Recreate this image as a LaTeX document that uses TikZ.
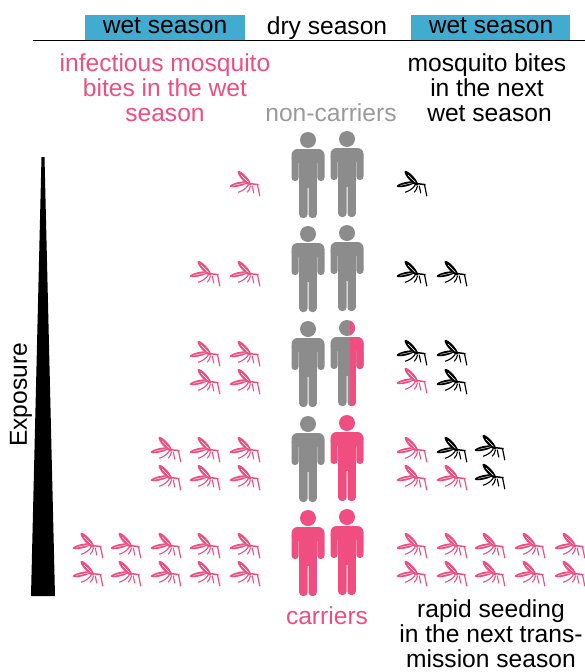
\documentclass[tikz,border=0pt]{standalone}
\usepackage{fontspec}
\setmainfont{Liberation Sans}
\definecolor{carrier}{HTML}{F04E80}
\definecolor{noncarrier}{HTML}{8C8C8C}
\definecolor{nonlabel}{HTML}{9A9A9A}
\definecolor{season}{HTML}{41ACD0}
\newcommand{\personshape}[1]{%
  \fill[#1] (0,0) circle (8);
  \fill[#1,rounded corners=6pt] (-16.5,23) -- (-16.5,9) -- (16.5,9) -- (16.5,23) -- cycle;
  \fill[#1,rounded corners=3.3pt] (-16.5,15) rectangle (-9.4,41);
  \fill[#1,rounded corners=3.3pt] (9.4,15) rectangle (16.5,41);
  \fill[#1] (-8.8,15) rectangle (8.8,48);
  \fill[#1,rounded corners=3.5pt] (-8.8,40) rectangle (-0.5,78);
  \fill[#1,rounded corners=3.5pt] (0.5,40) rectangle (8.8,78);
}
\tikzset{
  lbl/.style={font=\fontsize{24.6}{25}\selectfont, align=center, inner sep=0pt},
  pics/person/.style={code={\personshape{#1}}},
  pics/halfperson/.style={code={
    \personshape{noncarrier}
    \begin{scope}
      \clip (3,-10) rectangle (20,80);
      \personshape{carrier}
    \end{scope}
  }},
  pics/mosquito/.style={code={
    \begin{scope}[shift={(0.5,1)}]
    \fill[#1,rotate around={-48:(-1.2,-5.8)}] (-1.2,-5.8) ellipse (9.6 and 2.7);
    \fill[#1,rotate around={13:(-7,0.3)}] (-7,0.3) ellipse (9 and 2.2);
    \draw[white,line width=0.4pt] (-4.5,-9) -- (3,-1.5);
    \draw[white,line width=0.4pt] (-12,1.4) -- (0,-1.2);
    \draw[#1,line width=1.5pt] (0,-1) -- (13,0.7);
    \draw[#1,line width=1.1pt] (6.7,1.7) -- (8.3,9.3);
    \draw[#1,line width=1.1pt] (5,1.7) .. controls (4.5,4.5) and (3.5,6.5) .. (1.7,8.3);
    \draw[#1,line width=1.1pt] (2.7,1.2) .. controls (0.5,4.5) and (-3,6.8) .. (-7.3,8.3);
    \draw[#1,line width=1.2pt] (12,0.7) -- (14.3,12.2);
    \end{scope}
  }}
}
\begin{document}
\begin{tikzpicture}[x=1pt,y=-1pt]
\useasboundingbox (0,0) rectangle (585,672);
\fill[season] (85,15) rectangle (245,40);
\fill[season] (411,15) rectangle (570,40);
\draw[line width=1pt] (33,40.5) -- (585,40.5);
\node[lbl] (wet1) at (165,26) {wet season};
\node[lbl] (dry) at (327,28) {dry season};
\node[lbl] (wet2) at (491,26) {wet season};
\node[lbl,text=carrier] (bites) at (165,88) {infectious mosquito\\bites in the wet\\season};
\node[lbl] (next) at (487,88) {mosquito bites\\in the next\\\hspace*{5pt}wet season};
\node[lbl,text=nonlabel] (non) at (331,113) {non-carriers};
\node[lbl,text=carrier] (carriers) at (327,616) {carriers};
\node[lbl] (seeding) at (491,633.5) {rapid seeding\\in the next trans-\\mission season};
\node[lbl,rotate=90] (exposure) at (21,395) {Exposure};
\fill (41.5,157) -- (44.5,157) -- (55,596) -- (31,596) -- cycle;
% people
\foreach \py/\pa/\pb in {140/noncarrier/noncarrier,234/noncarrier/noncarrier,424/noncarrier/carrier,518/carrier/carrier}{
  \pic at (308,\py) {person=\pa};
  \pic at (347,\py-1) {person=\pb};
}
\pic at (308,329) {person=noncarrier};
\pic at (347,328) {halfperson};
% infectious bites
\foreach \mx/\my in {245/183,205/273,245/273,205/353,245/353,205/381,245/381,
  166/449,205/449,245/449,166/477,205/477,245/477,
  88/545,126/545,166/545,205/545,245/545,88/573,126/573,166/573,205/573,245/573}{
  \pic at (\mx,\my) {mosquito=carrier};
}
% next season
\foreach \mx/\my in {412/183,412/273,452/273,412/352,452/352,452/381,452/449,490/447,490/476}{
  \pic at (\mx,\my) {mosquito=black};
}
\foreach \mx/\my in {412/380,412/449,412/477,452/477,
  412/545,452/545,490/545,530/545,570/545,412/573,452/573,490/573,530/573,570/573}{
  \pic at (\mx,\my) {mosquito=carrier};
}
\end{tikzpicture}
\end{document}
